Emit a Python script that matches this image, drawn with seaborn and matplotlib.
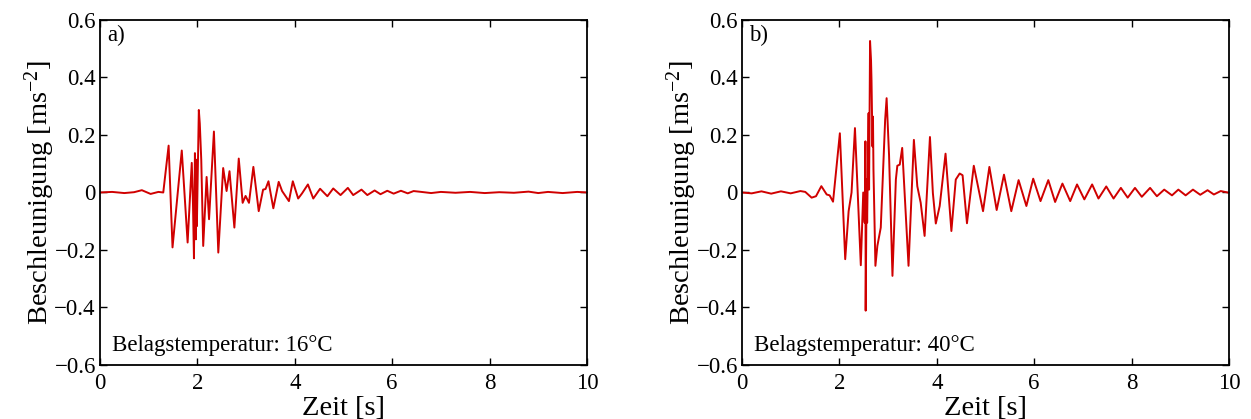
import numpy as np
import pandas as pd
import matplotlib
matplotlib.use("Agg")
import matplotlib.pyplot as plt
import seaborn as sns

# ---- data ----
time_a = [0.0, 0.25, 0.5, 0.7, 0.86, 1.04, 1.2, 1.3,
          1.41, 1.49, 1.61, 1.68, 1.80, 1.885, 1.91, 1.93, 1.95, 1.97, 1.98, 1.99,
          2.03, 2.05, 2.08, 2.12, 2.19, 2.24, 2.34, 2.43, 2.53, 2.60, 2.66, 2.76,
          2.85, 2.93, 2.99, 3.06, 3.15, 3.26, 3.35, 3.40, 3.46, 3.56, 3.67, 3.74,
          3.88, 3.96, 4.07, 4.15, 4.27, 4.38, 4.52, 4.67, 4.79, 4.94, 5.09, 5.20,
          5.37, 5.49, 5.64, 5.76, 5.90, 6.03, 6.18, 6.32, 6.44, 6.6, 6.8, 7.0,
          7.3, 7.6, 7.9, 8.2, 8.5, 8.8, 9.0, 9.2, 9.5, 9.8, 10.0]
accel_a = [0.0, 0.002, -0.002, 0.001, 0.008, -0.005, 0.002, 0.0,
           0.163, -0.191, 0.022, 0.146, -0.174, 0.103, -0.04, -0.229, 0.137, -0.163, 0.114, -0.117,
           0.287, 0.24, 0.114, -0.186, 0.054, -0.093, 0.212, -0.209, 0.085, 0.005, 0.074, -0.122,
           0.118, -0.036, -0.012, -0.036, 0.089, -0.065, 0.010, 0.012, 0.039, -0.055, 0.037, 0.005,
           -0.030, 0.039, -0.021, -0.003, 0.028, -0.021, 0.013, -0.013, 0.014, -0.009, 0.016, -0.009,
           0.010, -0.009, 0.007, -0.006, 0.006, -0.004, 0.006, -0.003, 0.005, 0.002, -0.002, 0.002,
           -0.001, 0.002, -0.002, 0.001, -0.001, 0.003, -0.002, 0.002, -0.002, 0.002, 0.0]

time_b = [0.0, 0.2, 0.4, 0.6, 0.8, 1.0, 1.2, 1.3, 1.43, 1.52, 1.63, 1.74, 1.80, 1.87,
          2.01, 2.12, 2.19, 2.25, 2.32, 2.44, 2.49, 2.52, 2.535, 2.54, 2.56, 2.57,
          2.60, 2.61, 2.63, 2.65, 2.66, 2.68, 2.69, 2.70, 2.74, 2.78, 2.85, 2.94,
          2.97, 3.02, 3.09, 3.16, 3.19, 3.24, 3.29, 3.42, 3.53, 3.60, 3.67, 3.75,
          3.86, 3.92, 3.98, 4.06, 4.18, 4.30, 4.39, 4.47, 4.53, 4.62, 4.76, 4.95,
          5.08, 5.23, 5.38, 5.53, 5.68, 5.84, 5.98, 6.13, 6.29, 6.43, 6.58, 6.74,
          6.88, 7.03, 7.19, 7.32, 7.48, 7.63, 7.78, 7.92, 8.07, 8.21, 8.38, 8.52,
          8.67, 8.83, 8.96, 9.11, 9.26, 9.41, 9.56, 9.69, 9.83, 10.0]
accel_b = [0.0, -0.003, 0.004, -0.004, 0.004, -0.003, 0.005, 0.002, -0.018, -0.013, 0.022, -0.007, -0.010, -0.032,
           0.206, -0.232, -0.065, 0.0, 0.224, -0.253, 0.0, -0.105, 0.178, -0.411, 0.045, -0.105,
           0.276, 0.01, 0.527, 0.46, 0.39, 0.16, 0.264, 0.08, -0.255, -0.186, -0.122, 0.253,
           0.328, 0.13, -0.290, 0.045, 0.093, 0.097, 0.155, -0.255, 0.183, 0.022, -0.036, -0.151,
           0.193, -0.002, -0.108, -0.047, 0.135, -0.134, 0.045, 0.066, 0.060, -0.107, 0.093, -0.065,
           0.089, -0.061, 0.062, -0.065, 0.043, -0.047, 0.048, -0.030, 0.043, -0.033, 0.031, -0.030,
           0.028, -0.024, 0.028, -0.021, 0.021, -0.021, 0.016, -0.018, 0.016, -0.015, 0.016, -0.013,
           0.010, -0.010, 0.010, -0.010, 0.010, -0.008, 0.008, -0.007, 0.005, -0.001]

panel_labels = ["a)", "b)"]
temp_labels = ["Belagstemperatur: 16°C", "Belagstemperatur: 40°C"]
x_ticks = [0, 2, 4, 6, 8, 10]
y_ticks = [-0.6, -0.4, -0.2, 0, 0.2, 0.4, 0.6]
y_ticklabels = ["\u22120.6", "\u22120.4", "\u22120.2", "0", "0.2", "0.4", "0.6"]

# ---- plotting ----
sns.set_style("ticks")
plt.rcParams["font.family"] = ["Liberation Serif", "DejaVu Serif"]
plt.rcParams["mathtext.fontset"] = "custom"
plt.rcParams["mathtext.rm"] = "Liberation Serif"
plt.rcParams["mathtext.it"] = "Liberation Serif:italic"
plt.rcParams["text.color"] = "black"
plt.rcParams["axes.labelcolor"] = "black"
plt.rcParams["xtick.color"] = "black"
plt.rcParams["ytick.color"] = "black"

fig = plt.figure(figsize=(12.51, 4.19), dpi=100)
positions = [[0.0799, 0.1289, 0.3893, 0.8234], [0.5931, 0.1289, 0.3893, 0.8234]]
datasets = [(time_a, accel_a), (time_b, accel_b)]

for i, (t, a) in enumerate(datasets):
    ax = fig.add_axes(positions[i])
    df = pd.DataFrame({"Zeit": t, "Beschleunigung": a})
    sns.lineplot(data=df, x="Zeit", y="Beschleunigung", ax=ax, color="#d00000",
                 linewidth=1.4, sort=False, estimator=None)
    ax.set_xlim(0, 10)
    ax.set_ylim(-0.6, 0.6)
    ax.set_xticks(x_ticks)
    ax.set_xticklabels([str(v) for v in x_ticks])
    ax.set_yticks(y_ticks)
    ax.set_yticklabels(y_ticklabels)
    ax.tick_params(direction="in", length=5, width=1, top=True, right=True,
                   labelsize=16.5, colors="black")
    ax.tick_params(axis="x", pad=6)
    ax.tick_params(axis="y", pad=3)
    for s in ax.spines.values():
        s.set_visible(True)
        s.set_linewidth(1.3)
        s.set_color("black")
    ax.set_xlabel("Zeit [s]", fontsize=20.5, labelpad=1, color="black")
    ax.set_ylabel(r"Beschleunigung [ms$^{-2}$]", fontsize=20.5, labelpad=-2, color="black")
    ax.text(0.015, 0.985, panel_labels[i], transform=ax.transAxes, fontsize=16.5,
            ha="left", va="top", color="black")
    ax.text(0.025, 0.025, temp_labels[i], transform=ax.transAxes, fontsize=16.5,
            ha="left", va="bottom", color="black")
    ax.grid(False)

fig.savefig("out.png", dpi=100)
